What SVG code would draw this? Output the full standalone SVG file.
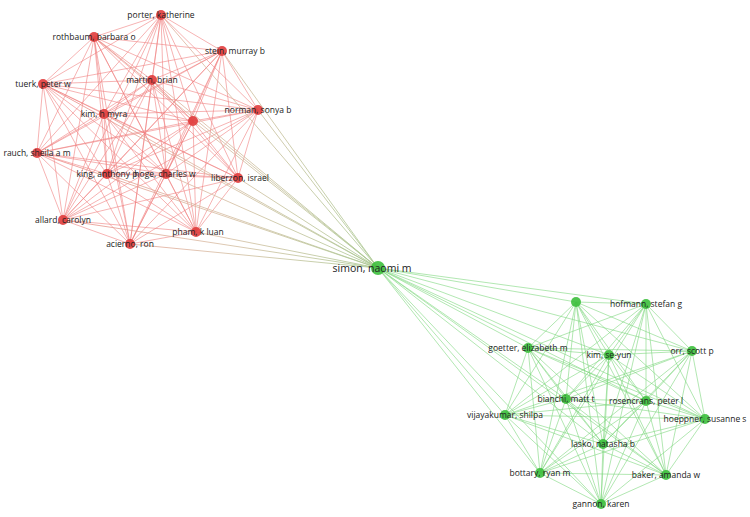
<svg xmlns="http://www.w3.org/2000/svg" width="750" height="517" viewBox="0 0 750 517">
<style>
.e{fill:none;stroke-width:0.8}
.r{stroke:#f08080;stroke-opacity:0.75}
.g{stroke:#7ed67e;stroke-opacity:0.75}
.nr{fill:#e03c3c;fill-opacity:0.9}
.ng{fill:#3cbf3c;fill-opacity:0.9}
text{font-family:"Open Sans","Liberation Sans",sans-serif;font-size:8.5px;fill:#222;text-anchor:middle}
</style>
<defs>
<linearGradient id="rg" x1="0" y1="0" x2="1" y2="0"><stop offset="0" stop-color="#f08080"/><stop offset="0.5" stop-color="#d9b9a0"/><stop offset="1" stop-color="#a8c890"/></linearGradient>
</defs>
<rect width="750" height="517" fill="#fff"/>
<g id="connectors">
<path class="e r" d="M161 15L94 37M161 15L222 51M161 15L152 80M161 15L43 84M161 15L104 114M161 15L193 121M161 15L258 110M161 15L37 153M161 15L107 174M161 15L166 174M161 15L238 178M161 15L63 220M161 15L130 244M161 15L196 232M94 37L222 51M94 37L152 80M94 37L43 84M94 37L104 114M94 37L193 121M94 37L258 110M94 37L37 153M94 37L107 174M94 37L166 174M94 37L238 178M94 37L63 220M94 37L130 244M94 37L196 232M222 51L152 80M222 51L43 84M222 51L104 114M222 51L193 121M222 51L258 110M222 51L37 153M222 51L107 174M222 51L166 174M222 51L238 178M222 51L63 220M222 51L130 244M222 51L196 232M152 80L43 84M152 80L104 114M152 80L193 121M152 80L258 110M152 80L37 153M152 80L107 174M152 80L166 174M152 80L238 178M152 80L63 220M152 80L130 244M152 80L196 232M43 84L104 114M43 84L193 121M43 84L258 110M43 84L37 153M43 84L107 174M43 84L166 174M43 84L238 178M43 84L63 220M43 84L130 244M43 84L196 232M104 114L193 121M104 114L258 110M104 114L37 153M104 114L107 174M104 114L166 174M104 114L238 178M104 114L63 220M104 114L130 244M104 114L196 232M193 121L258 110M193 121L37 153M193 121L107 174M193 121L166 174M193 121L238 178M193 121L63 220M193 121L130 244M193 121L196 232M258 110L37 153M258 110L107 174M258 110L166 174M258 110L238 178M258 110L63 220M258 110L130 244M258 110L196 232M37 153L107 174M37 153L166 174M37 153L238 178M37 153L63 220M37 153L130 244M37 153L196 232M107 174L166 174M107 174L238 178M107 174L63 220M107 174L130 244M107 174L196 232M166 174L238 178M166 174L63 220M166 174L130 244M166 174L196 232M238 178L63 220M238 178L130 244M238 178L196 232M63 220L130 244M63 220L196 232M130 244L196 232"/>
<path class="e" stroke="url(#rg)" stroke-width="1" d="M378 268L161 15M378 268L94 37M378 268L222 51M378 268L152 80M378 268L43 84M378 268L104 114M378 268L193 121M378 268L258 110M378 268L37 153M378 268L107 174M378 268L166 174M378 268L238 178M378 268L63 220M378 268L130 244M378 268L196 232"/>
<path class="e g" d="M576 302L646 304M576 302L528 348M576 302L609 355M576 302L692 351M576 302L566 399M576 302L646 401M576 302L505 415M576 302L705 419M576 302L603 444M576 302L540 473M576 302L666 475M576 302L601 504M646 304L528 348M646 304L609 355M646 304L692 351M646 304L566 399M646 304L646 401M646 304L505 415M646 304L705 419M646 304L603 444M646 304L540 473M646 304L666 475M646 304L601 504M528 348L609 355M528 348L692 351M528 348L566 399M528 348L646 401M528 348L505 415M528 348L705 419M528 348L603 444M528 348L540 473M528 348L666 475M528 348L601 504M609 355L692 351M609 355L566 399M609 355L646 401M609 355L505 415M609 355L705 419M609 355L603 444M609 355L540 473M609 355L666 475M609 355L601 504M692 351L566 399M692 351L646 401M692 351L505 415M692 351L705 419M692 351L603 444M692 351L540 473M692 351L666 475M692 351L601 504M566 399L646 401M566 399L505 415M566 399L705 419M566 399L603 444M566 399L540 473M566 399L666 475M566 399L601 504M646 401L505 415M646 401L705 419M646 401L603 444M646 401L540 473M646 401L666 475M646 401L601 504M505 415L705 419M505 415L603 444M505 415L540 473M505 415L666 475M505 415L601 504M705 419L603 444M705 419L540 473M705 419L666 475M705 419L601 504M603 444L540 473M603 444L666 475M603 444L601 504M540 473L666 475M540 473L601 504M666 475L601 504"/>
<path class="e g" d="M378 268L576 302M378 268L646 304M378 268L528 348M378 268L609 355M378 268L692 351M378 268L566 399M378 268L646 401M378 268L505 415M378 268L705 419M378 268L603 444M378 268L540 473M378 268L666 475M378 268L601 504"/>
</g>
<g id="porter"><circle class="nr" cx="161" cy="15" r="5"/><text x="161" y="18">porter, katherine</text></g>
<g id="rothbaum"><circle class="nr" cx="94" cy="37" r="5"/><text x="94" y="40">rothbaum, barbara o</text></g>
<g id="stein"><circle class="nr" cx="222" cy="51" r="5"/><text x="235" y="54">stein, murray b</text></g>
<g id="martin"><circle class="nr" cx="152" cy="80" r="5"/><text x="152" y="83">martin, brian</text></g>
<g id="tuerk"><circle class="nr" cx="43" cy="84" r="5"/><text x="43" y="87">tuerk, peter w</text></g>
<g id="kimh"><circle class="nr" cx="104" cy="114" r="5"/><text x="104" y="117">kim, h myra</text></g>
<g id="red-unlabeled"><circle class="nr" cx="193" cy="121" r="5"/></g>
<g id="norman"><circle class="nr" cx="258" cy="110" r="5"/><text x="258" y="113">norman, sonya b</text></g>
<g id="rauch"><circle class="nr" cx="37" cy="153" r="5"/><text x="37" y="156">rauch, sheila a m</text></g>
<g id="king"><circle class="nr" cx="107" cy="174" r="5"/><text x="107" y="177">king, anthony p</text></g>
<g id="hoge"><circle class="nr" cx="166" cy="174" r="5"/><text x="165" y="177">hoge, charles w</text></g>
<g id="liberzon"><circle class="nr" cx="238" cy="178" r="5"/><text x="240" y="181">liberzon, israel</text></g>
<g id="allard"><circle class="nr" cx="63" cy="220" r="5"/><text x="63" y="223">allard, carolyn</text></g>
<g id="acierno"><circle class="nr" cx="130" cy="244" r="5"/><text x="130" y="247">acierno, ron</text></g>
<g id="pham"><circle class="nr" cx="196" cy="232" r="5"/><text x="198" y="235">pham, k luan</text></g>
<g id="simon"><circle class="ng" cx="378" cy="268" r="7"/><text x="372" y="272" style="font-size:10.5px">simon, naomi m</text></g>
<g id="green-unlabeled"><circle class="ng" cx="576" cy="302" r="5"/></g>
<g id="hofmann"><circle class="ng" cx="646" cy="304" r="5"/><text x="646" y="307">hofmann, stefan g</text></g>
<g id="goetter"><circle class="ng" cx="528" cy="348" r="5"/><text x="528" y="351">goetter, elizabeth m</text></g>
<g id="kimse"><circle class="ng" cx="609" cy="355" r="5"/><text x="609" y="358">kim, se-yun</text></g>
<g id="orr"><circle class="ng" cx="692" cy="351" r="5"/><text x="692" y="354">orr, scott p</text></g>
<g id="bianchi"><circle class="ng" cx="566" cy="399" r="5"/><text x="566" y="402">bianchi, matt t</text></g>
<g id="rosencrans"><circle class="ng" cx="646" cy="401" r="5"/><text x="646" y="404">rosencrans, peter l</text></g>
<g id="vijayakumar"><circle class="ng" cx="505" cy="415" r="5"/><text x="505" y="418">vijayakumar, shilpa</text></g>
<g id="hoeppner"><circle class="ng" cx="705" cy="419" r="5"/><text x="705" y="422">hoeppner, susanne s</text></g>
<g id="lasko"><circle class="ng" cx="603" cy="444" r="5"/><text x="603" y="447">lasko, natasha b</text></g>
<g id="bottary"><circle class="ng" cx="540" cy="473" r="5"/><text x="540" y="476">bottary, ryan m</text></g>
<g id="baker"><circle class="ng" cx="666" cy="475" r="5"/><text x="666" y="478">baker, amanda w</text></g>
<g id="gannon"><circle class="ng" cx="601" cy="504" r="5"/><text x="601" y="507">gannon, karen</text></g>
</svg>
